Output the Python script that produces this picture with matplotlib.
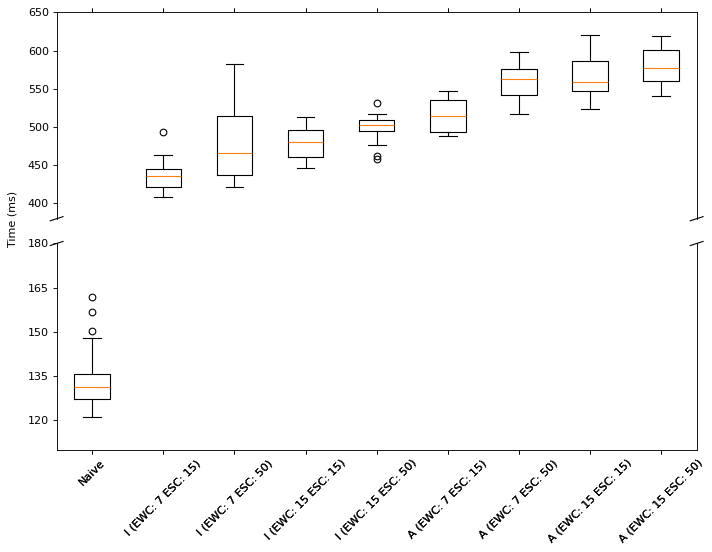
import matplotlib
matplotlib.use("Agg")
import matplotlib.pyplot as plt
from matplotlib.ticker import MultipleLocator

labels = ["Naive", "I (EWC: 7 ESC: 15)", "I (EWC: 7 ESC: 50)", "I (EWC: 15 ESC: 15)",
          "I (EWC: 15 ESC: 50)", "A (EWC: 7 ESC: 15)", "A (EWC: 7 ESC: 50)",
          "A (EWC: 15 ESC: 15)", "A (EWC: 15 ESC: 50)"]
whislo = [121, 409, 421, 446, 477, 488, 516.5, 524, 541]
q1 = [127.1, 421, 437, 460.5, 494.5, 494, 541.5, 546.5, 560]
med = [131.3, 435.5, 465.5, 481, 502, 514, 562.5, 558.5, 577]
q3 = [135.9, 444.5, 515, 495.5, 508.5, 535, 575.5, 586, 600.5]
whishi = [148, 463, 582, 512.5, 517, 546.5, 597.5, 620, 618.5]
fliers = [[150.2, 156.8, 162], [494], [], [], [531, 462, 458], [], [], [], []]

stats = []
for i in range(len(labels)):
    stats.append({"label": labels[i], "med": med[i], "q1": q1[i], "q3": q3[i],
                  "whislo": whislo[i], "whishi": whishi[i], "fliers": fliers[i]})

fig, (ax1, ax2) = plt.subplots(2, 1, sharex=True, figsize=(8.9, 6.9), dpi=80)
fig.subplots_adjust(left=0.0796, right=0.9785, top=0.9777, bottom=0.185, hspace=0.12)

ax1.bxp(stats)
ax2.bxp(stats)

ax1.set_ylim(380, 650)
ax2.set_ylim(110, 180)
ax1.yaxis.set_major_locator(MultipleLocator(50))
ax2.yaxis.set_major_locator(MultipleLocator(15))

# hide the spines between the two axes
ax1.spines["bottom"].set_visible(False)
ax2.spines["top"].set_visible(False)
ax1.xaxis.tick_top()
ax1.tick_params(labeltop=False)
ax2.xaxis.tick_bottom()

# break marks
d = 0.01
kw = dict(transform=ax1.transAxes, color="k", clip_on=False, lw=1)
ax1.plot((-d, +d), (-d, +d), **kw)
ax1.plot((1 - d, 1 + d), (-d, +d), **kw)
kw.update(transform=ax2.transAxes)
ax2.plot((-d, +d), (1 - d, 1 + d), **kw)
ax2.plot((1 - d, 1 + d), (1 - d, 1 + d), **kw)

plt.setp(ax2.get_xticklabels(), rotation=45)
fig.text(0.018, 0.603, "Time (ms)", rotation=90, va="center", ha="center")

fig.savefig("out.png", dpi=80)
